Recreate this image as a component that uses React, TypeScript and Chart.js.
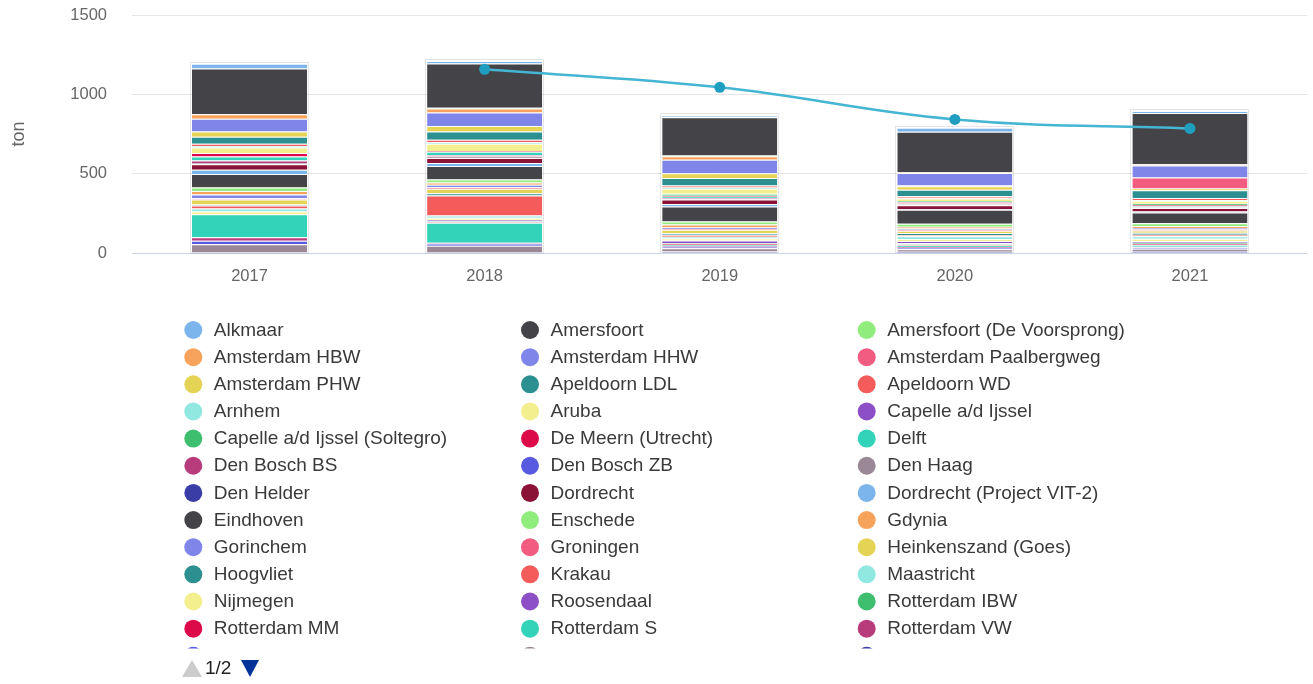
import { useEffect, useRef } from 'react';
import { Chart, registerables } from 'chart.js';

Chart.register(...registerables);

const FONT = '"Liberation Sans", Arial, Helvetica, sans-serif';

const YEARS = ['2017', '2018', '2019', '2020', '2021'];
const Y_TICKS = [0, 500, 1000, 1500];
const Y_TITLE = 'ton';
const PAGER_TEXT = '1/2';

const SERIES = [
  'Alkmaar', 'Amersfoort', 'Amersfoort (De Voorsprong)',
  'Amsterdam HBW', 'Amsterdam HHW', 'Amsterdam Paalbergweg',
  'Amsterdam PHW', 'Apeldoorn LDL', 'Apeldoorn WD',
  'Arnhem', 'Aruba', 'Capelle a/d Ijssel',
  'Capelle a/d Ijssel (Soltegro)', 'De Meern (Utrecht)', 'Delft',
  'Den Bosch BS', 'Den Bosch ZB', 'Den Haag',
  'Den Helder', 'Dordrecht', 'Dordrecht (Project VIT-2)',
  'Eindhoven', 'Enschede', 'Gdynia',
  'Gorinchem', 'Groningen', 'Heinkenszand (Goes)',
  'Hoogvliet', 'Krakau', 'Maastricht',
  'Nijmegen', 'Roosendaal', 'Rotterdam IBW',
  'Rotterdam MM', 'Rotterdam S', 'Rotterdam VW',
  'Schiedam', 'Tilburg', 'Utrecht',
];

const PALETTE = [
  '#7cb5ec', '#434348', '#90ed7d', '#f7a35c', '#8085e9',
  '#f15c80', '#e4d354', '#2b908f', '#f45b5b', '#91e8e1',
  '#f3ef8e', '#8d4fc6', '#3dbf6f', '#dc0a48', '#33d3b9',
  '#b83b7c', '#585be0', '#9a8896', '#3b3da6', '#8a1236',
];

// values per year, aligned with SERIES
const V2017 = [30, 289, 0, 28, 80, 0, 34, 44, 13, 10, 34, 0, 0, 23, 25, 15, 0, 8, 0, 36, 26, 85, 23, 21, 24, 8, 32, 6, 19, 19, 17, 0, 0, 0, 145, 22, 22, 55, 0];
const V2018 = [15, 280, 5, 25, 85, 0, 35, 52, 15, 10, 45, 0, 0, 5, 20, 10, 0, 10, 0, 30, 20, 85, 18, 15, 15, 10, 28, 15, 125, 15, 12, 10, 5, 5, 125, 5, 15, 45, 0];
const V2019 = [12, 240, 5, 22, 85, 0, 30, 48, 12, 8, 32, 0, 12, 6, 8, 5, 0, 5, 0, 28, 16, 95, 18, 20, 8, 5, 22, 10, 12, 12, 12, 18, 5, 5, 8, 5, 8, 20, 10];
const V2020 = [25, 255, 0, 5, 79, 5, 22, 40, 10, 5, 15, 0, 8, 8, 5, 3, 0, 3, 0, 25, 4, 88, 18, 12, 8, 5, 16, 12, 8, 16, 14, 14, 8, 5, 10, 6, 8, 16, 8];
const V2021 = [12, 322, 3, 5, 76, 70, 10, 50, 12, 5, 18, 0, 8, 8, 6, 3, 0, 3, 0, 22, 5, 68, 18, 12, 8, 8, 15, 12, 10, 15, 14, 12, 8, 6, 10, 6, 8, 14, 12];
const YEAR_VALUES = [V2017, V2018, V2019, V2020, V2021];

const LINE_LABEL = 'Trend';
const LINE_VALUES = [null, 1158, 1044, 842, 785];

const LEGEND_COL_X = [193.3, 530, 866.7];

const legendPlugin = {
  id: 'pagedLegend',
  afterDraw(chart: any) {
    const ctx = chart.ctx;
    ctx.save();
    ctx.beginPath();
    ctx.rect(0, 305, chart.width, 648.5 - 305);
    ctx.clip();
    ctx.font = `19px ${FONT}`;
    ctx.textBaseline = 'middle';
    ctx.textAlign = 'left';
    SERIES.forEach((name, i) => {
      const row = Math.floor(i / 3);
      const col = i % 3;
      const cx = LEGEND_COL_X[col];
      const cy = 330 + row * 27.15;
      ctx.fillStyle = PALETTE[i % PALETTE.length];
      ctx.beginPath();
      ctx.arc(cx, cy, 9, 0, Math.PI * 2);
      ctx.fill();
      ctx.fillStyle = '#3a3a3a';
      ctx.fillText(name, cx + 20.5, cy + 0.5);
    });
    ctx.restore();

    // pager
    ctx.save();
    ctx.fillStyle = '#cccccc';
    ctx.beginPath();
    ctx.moveTo(182, 677);
    ctx.lineTo(202, 677);
    ctx.lineTo(192, 660);
    ctx.closePath();
    ctx.fill();
    ctx.fillStyle = '#222222';
    ctx.font = `19px ${FONT}`;
    ctx.textBaseline = 'middle';
    ctx.textAlign = 'left';
    ctx.fillText(PAGER_TEXT, 205, 668.5);
    ctx.fillStyle = '#003399';
    ctx.beginPath();
    ctx.moveTo(241, 660);
    ctx.lineTo(259, 660);
    ctx.lineTo(250, 677);
    ctx.closePath();
    ctx.fill();
    ctx.restore();
  },
};

const stackOutline = {
  id: 'stackOutline',
  afterDatasetDraw(chart: any, args: any) {
    if (args.index !== 0) return;
    const ctx = chart.ctx;
    ctx.save();
    ctx.strokeStyle = 'rgba(0,0,0,0.10)';
    ctx.lineWidth = 1;
    YEARS.forEach((_, j) => {
      let top = Infinity;
      let bottom = -Infinity;
      let x = 0;
      let w = 0;
      for (let d = 0; d < SERIES.length; d++) {
        const el = chart.getDatasetMeta(d).data[j] as any;
        if (!el) continue;
        const p = el.getProps(['x', 'y', 'base', 'width'], true);
        top = Math.min(top, p.y, p.base);
        bottom = Math.max(bottom, p.y, p.base);
        x = p.x;
        w = p.width;
      }
      if (isFinite(top)) {
        ctx.strokeRect(Math.round(x - w / 2) - 1.5, Math.round(top) - 1.5, Math.round(w) + 3, bottom - top + 1.5);
      }
    });
    ctx.restore();
  },
};

export default function App() {
  const ref = useRef<HTMLCanvasElement>(null);

  useEffect(() => {
    document.body.style.margin = '0';
    if (!ref.current) return;
    Chart.defaults.font.family = FONT;

    const barSets = SERIES.map((name, i) => ({
      type: 'bar' as const,
      label: name,
      data: YEARS.map((_, j) => YEAR_VALUES[j][i]),
      backgroundColor: PALETTE[i % PALETTE.length],
      borderColor: '#ffffff',
      borderWidth: { top: 1, right: 0, bottom: 0, left: 0 },
      borderSkipped: false,
      order: 1,
      stack: 'bars',
      categoryPercentage: 0.6,
      barPercentage: 0.816,
    }));
    // Highcharts-style: first series on top -> reverse stacking order
    const reversed = barSets.slice().reverse();

    const chart = new Chart(ref.current, {
      type: 'bar',
      data: {
        labels: YEARS,
        datasets: [
          ...reversed,
          {
            type: 'line' as const,
            label: LINE_LABEL,
            data: LINE_VALUES,
            borderColor: '#44b5d2',
            backgroundColor: '#1f9ec0',
            pointBackgroundColor: '#1f9ec0',
            pointBorderWidth: 0,
            pointRadius: 5.5,
            borderWidth: 2.5,
            tension: 0.4,
            fill: false,
            order: 0,
            stack: 'line',
          },
        ] as any,
      },
      options: {
        responsive: false,
        animation: false,
        layout: { padding: { top: 15, right: 0, bottom: 0, left: 0 } },
        plugins: {
          legend: { display: false },
          tooltip: { enabled: false },
        },
        scales: {
          x: {
            stacked: true,
            grid: { display: false, drawTicks: false },
            border: { display: false },
            ticks: { color: '#666666', font: { size: 16.5 }, padding: 13.5 },
            afterFit: (s: any) => {
              s.height = 431;
            },
          },
          y: {
            stacked: true,
            min: 0,
            max: 1500,
            afterBuildTicks: (s: any) => {
              s.ticks = Y_TICKS.map((v) => ({ value: v }));
            },
            ticks: {
              color: '#666666',
              font: { size: 16.5 },
              padding: 3,
              callback: (v: any) => String(v),
            },
            grid: {
              drawTicks: true,
              tickLength: 22,
              tickColor: 'rgba(0,0,0,0)',
              color: (c: any) => (c.tick && c.tick.value === 0 ? '#ccd6eb' : '#e6e6e6'),
            },
            border: { display: false },
            title: {
              display: true,
              text: Y_TITLE,
              color: '#666666',
              font: { size: 18 },
              padding: { top: 8, bottom: 0 },
            },
            afterFit: (s: any) => {
              s.width = 132;
            },
          },
        },
      } as any,
      plugins: [stackOutline, legendPlugin],
    });
    return () => chart.destroy();
  }, []);

  return <canvas ref={ref} width={1313} height={684} style={{ display: 'block' }} />;
}
